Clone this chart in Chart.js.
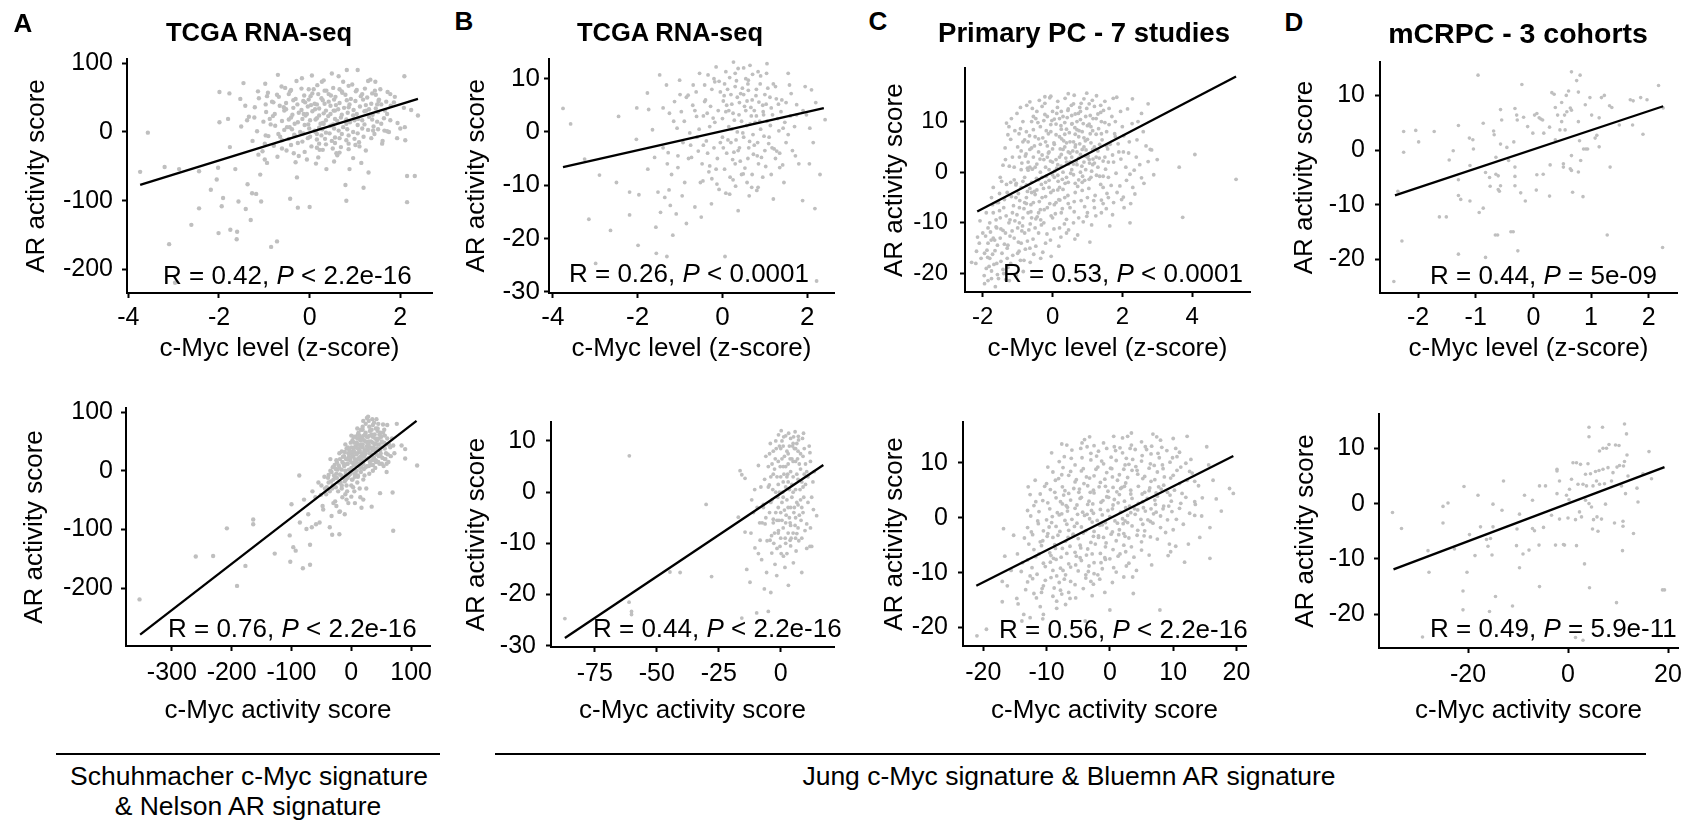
<!DOCTYPE html>
<html>
<head>
<meta charset="utf-8">
<script src="https://cdn.jsdelivr.net/npm/chart.js@4.4.1/dist/chart.umd.min.js"></script>
<style>
html,body{margin:0;background:#fff;overflow:hidden}
#fig{position:relative;width:1696px;height:822px;font-family:"Liberation Sans",Arial,sans-serif;color:#000}
.t{position:absolute;white-space:nowrap;line-height:1}
.lab{font-weight:bold;font-size:26px;transform:translate(-50%,-50%)}
.ttl{font-weight:bold;transform:translate(-50%,-50%)}
.st{font-size:26px;transform:translateY(-50%)}
.cap{font-size:26.5px;transform:translate(-50%,-50%)}
.rule{position:absolute;height:2px;background:#000}
.box{position:absolute}
</style>
</head>
<body>
<div id="fig"></div>
<script>
// ---- data (flat x,y pairs) ----
const aTopPts=[-3.57,-1,-3.74,-58,-3.2,-51,-3.1,-163,-2.97,-219,-2.88,-54,-2.61,-135,-2.44,-57,-2.44,-111,-2.18,-84,-2.01,-147,-2.02,-52,-2.05,-69,-1.99,58,-1.99,14,-1.91,-96,-1.94,-108,-1.77,56,-1.8,19,-1.76,-22,-1.75,-142,-1.6,-145,-1.61,-156,-1.64,-54,-1.57,-101,-1.53,48,-1.46,71,-1.42,38,-1.41,-112,-1.38,17,-1.37,-76,-1.3,-128,-1.27,-89,-1.22,21,-1.18,-90,-1.14,59,-1.13,-33,-1.09,-62,-1.07,-101,-0.99,-40,-0.98,70,-0.97,-5,-0.94,52,-0.88,19,-0.85,-167,-0.8,43,-0.72,-159,-0.7,83,-0.65,-7,-0.57,36,-0.54,64,-0.5,7,-0.46,55,-0.43,-97,-0.35,-31,-0.33,-5,-0.28,-66,-0.26,-110,-0.17,78,-0.13,26,-0.1,43,-0.06,-40,0,-109,0.05,82,0.09,62,0.13,0,0.16,40,0.22,-26,0.27,73,0.31,12,0.37,-54,0.42,55,0.49,85,0.53,31,0.59,-31,0.64,81,0.71,59,0.79,-77,0.81,-100,0.82,90,0.86,36,0.88,-54,0.94,69,0.99,17,1.06,90,1.1,-21,1.16,55,1.19,-81,1.25,31,1.3,-59,1.34,76,1.4,2,1.45,73,1.49,40,1.56,62,1.6,-17,1.65,2,1.71,26,1.75,0,1.78,55,1.86,43,1.93,-9,2,5,2.09,81,2.11,-12,2.1,7,2.15,-102,2.15,-64,2.32,-64,2.39,24,2.24,32,
-0.62,66,-0.18,63,0.17,68,0.52,64,0.86,67,1.22,63,-0.92,57,-0.43,59,0.06,56,0.37,60,0.72,57,1.02,59,1.38,56,1.72,58,-1.12,49,-0.68,51,-0.31,48,0.02,52,0.26,49,0.57,51,0.91,48,1.27,50,1.53,47,1.88,51,-0.83,44,-0.52,42,-0.14,45,0.11,41,0.42,44,0.66,42,1.01,45,1.36,41,1.69,44,-1.21,36,-0.66,38,-0.36,35,-0.04,37,0.21,34,0.46,38,0.76,35,1.11,37,1.46,34,1.79,38,2.08,35,-0.96,29,-0.56,31,-0.24,28,0.06,30,0.31,27,0.56,31,0.84,28,1.21,30,1.51,29,-1.34,22,-0.81,23,-0.41,21,-0.09,24,0.16,20,0.41,23,0.69,21,0.96,24,1.31,22,1.64,20,-1.02,15,-0.61,16,-0.26,14,0.01,17,0.29,13,0.61,16,0.89,14,1.16,17,1.49,15,1.94,13,-1.51,8,-0.76,9,-0.44,7,-0.11,10,0.21,6,0.46,9,0.74,7,1.06,10,1.41,8,-1.16,1,-0.56,3,-0.21,0,0.11,2,0.36,-1,0.64,2,0.96,0,1.29,3,1.71,1,-0.91,-6,-0.34,-4,0.01,-7,0.26,-5,0.56,-8,0.86,-5,1.19,-7,-1.26,-13,-0.61,-12,-0.16,-14,0.16,-11,0.49,-13,0.81,-12,1.09,-15,1.61,-13,-0.79,-20,-0.41,-19,0.04,-21,0.36,-18,0.69,-22,1.01,-19,-1.04,-28,-0.51,-27,-0.11,-29,0.29,-26,0.66,-30,1.24,-27,-0.71,-36,-0.24,-35,0.19,-37,0.61,-34,0.96,-38,-0.94,-45,-0.31,-44,0.14,-46,0.54,-43,1.14,-45,-0.29,74,0.31,75,0.74,73,1.29,74,
-0.41,61,-0.02,62,0.33,60,0.66,62,1.04,61,1.44,60,-0.72,54,-0.12,53,0.19,55,0.47,53,0.79,54,1.13,52,1.46,54,-0.36,46,-0.02,47,0.29,46,0.54,47,0.82,46,1.18,47,1.52,45,-0.97,40,-0.27,40,0.03,39,0.33,41,0.58,39,0.88,40,1.24,39,1.58,40,-0.52,33,-0.18,32,0.12,33,0.36,31,0.63,33,0.97,32,1.31,33,1.66,31,-0.77,26,-0.38,25,-0.06,26,0.21,24,0.46,26,0.71,25,1.04,26,1.39,25,-0.46,18,-0.16,19,0.13,18,0.36,17,0.56,19,0.81,18,1.07,19,1.38,18,1.78,17,-0.86,11,-0.33,12,-0.03,11,0.24,12,0.52,11,0.81,12,1.21,11,1.58,12,-0.39,4,-0.01,5,0.28,4,0.54,5,0.83,4,1.16,5,1.51,4,-0.69,-3,-0.14,-2,0.16,-3,0.44,-2,0.71,-3,1.06,-2,1.43,-3,-0.46,-10,-0.04,-9,0.34,-10,0.66,-9,0.99,-10,1.36,-9,-0.99,-17,-0.26,-16,0.21,-17,0.56,-16,0.86,-17,-0.61,-24,0.16,-23,0.51,-24,0.86,-25];
const aTopFit=[-3.74,-77,2.39,48];
const aTopXTicks=[-4,-2,0,2];
const aTopYTicks=[100,0,-100,-200];

const bTopPts=[-3.76,4.4,-3.58,1.5,-3.25,-5.1,-3.15,-16.4,-2.99,-24.7,-2.9,-8.1,-2.64,-18.5,-2.5,-9.5,-2.45,2.9,-2.19,-11.3,-2.03,-1.4,-2.02,4.5,-1.99,-21.3,-1.97,-11.8,-2.19,-15.6,-1.77,7.3,-1.76,-7,-1.74,4.2,-1.65,0.4,-1.6,-4.8,-1.57,-17.9,-1.56,-22.8,-1.52,-11.3,-1.48,10.7,-1.46,-15.1,-1.4,4.5,-1.36,-12.3,-1.32,8.8,-1.31,-23.4,-1.28,-3.9,-1.26,-10.9,-1.23,-13.8,-1.17,-19.4,-1.13,5.7,-1.09,-15.4,-1.07,0.7,-1.05,-6.7,-1.01,9.7,-0.97,3.8,-0.93,-2,-0.89,-9.5,-0.85,-17.2,-0.81,6.9,-0.77,-0.2,-0.73,-4.8,-0.69,8.8,-0.65,-14.1,-0.61,2.9,-0.57,-3.6,-0.54,11,-0.5,-16,-0.46,-9.2,-0.42,5.7,-0.38,-1.7,-0.34,10.7,-0.3,-6.4,-0.26,-13.5,-0.22,2.6,-0.18,9.4,-0.13,-9.8,0.06,-23.4,0.08,11.3,0.17,-11.7,0.37,-14.8,0.37,11.9,0.49,-7.9,0.61,9.7,0.69,-10.4,0.84,11.3,0.84,-10.4,1.04,11,1.2,-12.6,1.35,-6.7,1.55,11,1.72,-4.5,1.89,-12.9,2.06,0.7,2.1,7.9,2.14,-2,2.18,-14.4,2.22,-28,2.42,2.3,1.98,3.2,1.75,5.1,1.43,0.7,1.28,-3.6,
-0.4,6,-0.3,1,-0.25,8,-0.2,-3,-0.1,4,-0.05,7.5,0,-1,0,2.5,0.05,9,0.1,5,0.1,-4,0.15,1,0.2,7,0.2,-2,0.25,3.5,0.3,8.5,0.3,-6,0.35,0,0.4,5.5,0.4,-3,0.45,2,0.5,7,0.5,-1,0.55,4,0.6,-5,0.6,9,0.65,1.5,0.7,6,0.75,-2.5,0.8,3,0.8,8,0.85,-6,0.9,0.5,0.95,5,1,-3.5,1,7,1.05,2,1.1,-1,1.15,4.5,1.2,9,1.25,-5,1.3,2.5,1.4,6,1.5,-2,1.6,3,0.05,-7,0.25,-9,-0.15,-7,0.45,-8,0.7,-8,0.95,-8.5,-0.35,-4,0.15,4,0.35,6.5,0.55,10,0.75,4,0.22,0.5,0.62,-3,0.88,2,-0.05,-2,0.42,-5.5,0.12,8,0.68,3,1.12,6.5,-0.45,3,0.32,-1.5,0.58,5.8,0.82,-4.5,1.35,-4,1.5,5.5,1.7,1,1.8,-6,1.9,4,-0.6,-1,-0.7,5,-0.8,-5,-0.9,2,-1,7,-1.2,-8,-1.4,-3,0.9,10.5,0.5,12,0.3,11,1.25,8.5,-0.2,10,
-0.55,0.5,-0.48,-6,-0.62,7.5,-0.36,3.5,0.02,5.8,0.27,-3.8,0.47,8.2,0.72,-0.5,0.97,3.2,1.17,-3,1.32,5.2,1.62,7.2,1.02,-6.5,0.18,-8.5,-0.08,-10.8,0.63,-12,1.45,-9.5,-1.15,2,-1.3,-6,-0.95,-12,2.2,5.5,1.95,8.5,2.05,-6,2.3,-8,
-0.45,-2.5,-0.42,8.8,-0.28,4.8,-0.32,-7.5,-0.18,1.8,-0.12,-5,-0.08,9.5,0.02,-3,0.04,6.8,0.08,3.8,0.13,-1.5,0.17,10.2,0.22,5.2,0.24,-5.2,0.28,2.2,0.33,9.6,0.37,-3.5,0.39,3.2,0.43,7.2,0.48,-0.2,0.52,4.8,0.53,-6.8,0.57,1.2,0.61,7.8,0.64,-1.8,0.67,4.6,0.71,10.8,0.73,-4.2,0.77,1.8,0.79,6.8,0.83,-2,0.86,5.6,0.89,9,0.92,-4.8,0.96,3.8,0.98,-0.8,1.03,5.2,1.07,8.2,1.09,-2.2,1.13,1.2,1.18,3.2,1.22,-3.2,1.27,6.2,1.33,0.2,1.38,3.8,1.42,-6.2,1.47,1.8,1.55,-0.5,1.58,8.8,1.65,-3.5,1.75,3.2,-0.65,4,-0.75,-2.5,-0.85,6.5,-0.52,-9.5,-0.25,-8.8,0.08,-11.5,0.31,-10.2,0.58,-9.5,0.81,-11,1.15,-8,-1.05,-4.5,-1.25,3.5,-0.15,12.2,0.26,13.1,0.65,12.5,1.05,12.8];
const bTopFit=[-3.76,-6.6,2.39,4.46];
const bTopXTicks=[-4,-2,0,2];
const bTopYTicks=[10,0,-10,-20,-30];

const cTopPts=[5.26,-1.4,4.08,3.5,3.73,-8.9,3.63,1,2.84,4.4,2.74,2.1,2.29,14.5,2.22,-10,2.36,-4.3,2.03,-4.9,1.64,-10.6,1.07,-13.8,0.64,-13.2,-0.34,-17,-2.15,-12.8,-2.32,-17.8,-1.85,-21.4,-1.75,-19.5,-1.32,9.7,-0.65,13.9,-0.22,14.9,-0.08,14.7,0.98,15.6,1.26,15.1,1.84,14.8,2.74,13.5,2.55,11.6,2.03,4,2.22,-0.4,2.55,-1.1,1.93,-2.7,1.45,-6.2,0.98,-8.7,0.4,-9.3,0.21,-5.5,1.45,-0.8,
-2,-12,-1.95,-16,-1.9,-19,-1.85,-14,-1.8,-10,-1.8,-17,-1.75,-21,-1.7,-13,-1.7,-8,-1.65,-15.5,-1.6,-18,-1.6,-11,-1.55,-6,-1.5,-13,-1.5,-9,-1.45,-16,-1.4,-20,-1.4,-7,-1.35,-12,-1.3,-4,-1.3,-15,-1.25,-10,-1.2,-18,-1.2,-2,-1.15,-8,-1.1,-13,-1.1,1,-1.05,-5,-1,-16,-1,-11,-0.95,3,-0.95,-7,-0.9,-3,-0.9,-14,-0.85,6,-0.85,-9,-0.8,-1,-0.8,-12,-0.75,8,-0.75,-5,-0.7,2,-0.7,-8,-0.65,-15,-0.65,4.5,-0.6,-2,-0.6,10,-0.55,-6,-0.5,1,-0.5,7,-0.5,-11,-0.45,-3.5,-0.45,12,-0.4,4,-0.4,-8,-0.35,0,-0.35,9,-0.3,-5,-0.3,13,-0.25,2.5,-0.25,-10,-0.2,6,-0.2,-2,-0.15,11,-0.15,-7,-0.1,0.5,-0.1,4,-0.05,8,-0.05,-4,0,2,0,-9,0,12,0.05,5.5,0.05,-1,0.1,-6,0.1,9.5,0.15,1.5,0.15,14,0.2,-3,0.2,7,0.25,3.5,0.25,-8,0.3,11,0.3,0,0.35,5,0.35,-5,0.4,8.5,0.4,2,0.45,-2,0.45,12.5,0.5,6,0.5,-7,0.55,3,0.55,9.5,0.6,-0.5,0.6,13.5,0.65,5,0.65,-4,0.7,10,0.7,1.5,0.75,7,0.75,-9,0.8,3.5,0.8,12,0.85,-2,0.85,8,0.9,5,0.95,0.5,0.95,11,1,6.5,1,-5,1.05,2.5,1.1,9,1.1,-1,1.15,4.5,1.2,13,1.2,-7,1.25,7.5,1.3,1,1.35,5.5,1.4,10,1.45,-3,1.5,3,1.55,8,1.6,-1,1.65,5.5,1.7,11,1.75,2,1.8,7,1.85,-4,1.9,4,2,9,2.1,1,2.2,6,2.4,3,2.6,8,
-1,5,-1.2,6.5,-1.35,2.5,-1.5,-1,-1.25,9,-1.1,-1.5,-0.9,0.5,-0.7,6,-0.55,3,-0.3,-1,-0.1,-3,0.1,2.5,0.3,4.5,0.5,2,0.7,4,0.9,2,-0.6,-4,-0.4,-1.5,-0.2,1,0,-0.5,0.2,3,0.4,-1,0.6,6,0.8,0,1,3,1.2,5,-0.8,-6,-0.6,-9,-0.4,-12,-0.2,-14,0.2,-11,0.4,-12,0.6,-10,1,-8,1.4,-8,1.6,-5,-1.7,-3,-1.6,-6,-1.9,-8,-2.05,-17,-1.95,-22,-2.2,-18,-0.05,15,0.45,15.5,1.05,13.5,1.3,11.5,1.5,14,0.9,14.5,0.65,11.5,0.25,12,-0.55,11,-0.85,10,-1.15,3,-1.3,-17,-1.55,-21,-1.75,-5,-1.85,-11,-2.1,-14,1.75,-6,2.3,-3,2.05,-7,2.5,1.5,2.8,4.5,2.9,-0.5,3,2.5,1.95,12,2.45,10,0.35,7.5,0.55,0.5,0.75,-1.5,0.15,-3.5,-0.15,3,-0.35,5.5,-0.65,1,-0.75,-2.5,-0.95,-10,-1.05,-2.5,0.05,10.5,0.25,8.5,0.45,4,0.65,7.5,0.85,4.5,1.05,9.5,1.15,1.5,1.25,3,1.4,-5.5,1.6,2,1.8,10,2.15,12.5,
-1.42,-11.5,-1.38,-14.2,-1.33,-8.6,-1.28,-18.8,-1.22,-12.6,-1.18,-4.8,-1.14,-16.4,-1.08,-9.6,-1.04,-2.2,-0.98,-13.8,-0.94,-5.6,-0.92,-17.4,-0.88,1.8,-0.86,-10.6,-0.82,-7.2,-0.78,-15.2,-0.76,3.6,-0.72,-3.8,-0.68,-11.4,-0.66,7.2,-0.62,-6.4,-0.58,0.6,-0.56,-13.2,-0.52,5.2,-0.48,-9.2,-0.46,-1.2,-0.42,9.8,-0.38,-5.8,-0.36,2.6,-0.32,-10.4,-0.28,6.8,-0.26,-3.2,-0.22,11.4,-0.18,-0.8,-0.16,-12.2,-0.12,7.6,-0.08,-6.2,-0.06,2.2,-0.02,10.2,0.02,-3.6,0.04,5.8,0.08,-8.2,0.12,0.8,0.14,12.8,0.18,-5.4,0.22,4.6,0.24,9.2,0.28,-1.4,0.32,6.2,0.34,-10.2,0.38,2.8,0.42,10.8,0.44,-4.6,0.48,7.8,0.52,-0.2,0.54,13.2,0.58,4.2,0.62,-7.8,0.64,8.8,0.68,2.2,0.72,-2.8,0.74,11.6,0.78,5.6,0.82,-5.6,0.84,1.2,0.88,9.6,0.92,-1.6,0.94,6.2,0.98,12.6,1.02,3.2,1.04,-3.2,1.08,7.6,1.12,0.2,1.16,10.6,1.18,-5.6,1.22,4.6,1.26,-0.6,1.32,8.6,1.34,2.8,1.38,-2.4,1.42,6.4,1.46,12.2,1.52,0.6,1.56,-4.2,1.58,4.6,1.62,9.4,1.68,-2.6,1.72,3.4,1.78,7.6,1.82,-0.2,1.88,5.6,1.96,2.6,2.04,7.2,2.12,-1.6,2.18,3.8,2.28,9.6,2.34,0.4,2.42,6.4,2.62,-2.2,2.68,5.2,
-1.62,-9.4,-1.66,-13.4,-1.72,-16.2,-1.78,-11.8,-1.82,-18.6,-1.88,-15.4,-1.92,-12.6,-1.58,-20.2,-1.48,-17.6,-1.52,-4.2,-1.46,-1.8,-1.42,1.4,-1.36,4.8,-1.28,7.4,-1.18,10.6,-1.08,8.2,-1.02,11.6,-0.96,7.6,-0.92,12.8,-0.74,13.2,-0.58,12.6,-0.38,14.2,-0.22,13.6,0.36,14.6,0.62,15.2,0.82,13.6,1.14,14.2,1.38,13.2,1.62,12.6,1.74,14.6,-0.48,-14.6,-0.28,-15.8,-0.06,-13.4,0.18,-14.6,0.46,-11.4,0.72,-12.4,0.88,-9.8,1.12,-10.4,1.24,-8.6,1.54,-7.2,1.72,-8.4,1.98,-5.4,2.24,-6.2,-0.04,-16.6,-0.64,-17.8,-0.84,-19.6,-1.04,-20.4,-1.24,-21.4,-1.64,-22.6,-1.96,-20.4,-2.08,-9.6,-2.18,-15.6,-0.12,3.8,0.06,0.2,0.26,6.6,0.46,1.6,0.66,5.4,0.86,-0.8,1.06,1.8,-0.32,-2.4,-0.52,-3.8,-0.72,0.8,0.16,-1.8,0.36,-2.2,0.56,9.6,0.76,8.2,0.96,4.4,1.16,2.6,-0.24,-7.4,-0.44,-8.8,-0.64,-10.2,0.04,-11.2,0.24,-12.8,
-0.9,4.2,-0.85,-1.8,-0.8,6.4,-0.75,-6.2,-0.7,0.4,-0.65,-3.2,-0.6,4.8,-0.55,8.4,-0.5,-4.4,-0.45,1.6,-0.4,6.6,-0.35,-7.4,-0.3,3.4,-0.25,10.2,-0.2,-4.8,-0.15,5.2,-0.1,-1.6,-0.05,9.4,0,4.6,0.05,-6.4,0.1,7.4,0.15,-0.6,0.2,10.6,0.25,1.2,0.3,-3.4,0.35,9.8,0.4,5.8,0.45,-6.2,0.5,3.8,0.55,11.2,0.6,1.6,0.65,-2.2,0.7,8.4,0.75,2.8,0.8,10.4,0.85,-3.6,0.9,6.8,0.95,3.2,1,9.2,1.05,-1.4,1.1,5.8,1.15,8.2,1.2,1.8,1.25,10.6,1.3,4.2,1.35,-0.8,1.4,7.6,1.45,2.2,1.5,9.8,1.55,5.2,-0.98,-4.2,-0.92,8.6,-0.78,3.2,-0.62,-7.8,-0.48,10.6,-0.34,-9.4,-0.18,8.2,-0.04,-8.6,0.12,11.6,0.28,-7.2,0.44,12.2,0.62,-5.8,0.78,12.8,0.92,-6.8,1.08,11.2,1.22,-4.6,1.38,11.8,-1.12,-6.6,-1.22,-9.4,-1.32,-2.4,-1.02,-8.4,-0.88,-11.6,-0.72,-13.6,-0.54,-16.2,-1.24,1.2,-1.38,-5.4,-1.48,-11.2,-1.58,-14.4,-1.68,-18.2,-1.76,-13.4,-1.86,-16.8,-1.28,-14.4,-1.16,-11.6,-0.96,-15.6,-0.82,-17.4,-1.52,-7.6,-1.62,-10.8,-1.72,-6.4,-1.42,-19.2,-1.34,-21.2];
const cTopFit=[-2.16,-7.76,5.26,18.9];
const cTopXTicks=[-2,0,2,4];
const cTopYTicks=[10,0,-10,-20];

const dTopPts=[-2.42,-24,-2.28,-16.6,-2.25,-0.4,-2.25,3.4,-2.35,-7.5,-2.04,3.6,-1.99,1.5,-1.72,3.4,-1.63,-12.2,-1.51,-12.2,-1.46,-1.8,-1.39,-0.1,-1.3,4.5,-1.3,-5.4,-1.3,-8.3,-1.26,-9,-1.3,-19,-1.11,2.2,-1.05,1.9,-1.1,-2.8,-1.1,-9.3,-1.04,0.2,-0.96,13.7,-0.87,4.9,-0.87,-10.6,-0.94,-11.4,-0.83,-19.6,-0.83,-4.1,-0.76,-5,-0.75,-6.6,-0.69,3.5,-0.68,2.8,-0.65,-1.3,-0.65,-4.4,-0.61,-4.7,-0.61,-7.2,-0.59,-7.5,-0.66,-15.5,-0.62,-15.5,-0.65,-24,-0.57,7.4,-0.57,1.1,-0.57,-6.5,-0.55,5.5,-0.46,0.5,-0.43,-1.9,-0.39,-14.9,-0.35,-14.9,-0.34,1.5,-0.32,7.6,-0.32,-3.1,-0.32,-4.8,-0.32,-6.5,-0.29,6.4,-0.28,5.5,-0.27,-18.4,-0.2,12,-0.17,6,-0.22,-7.8,-0.14,-9.3,-0.1,4.3,-0.01,3.1,0.02,6.4,0.06,6.7,0.1,5.9,0.13,5.7,0.16,5.5,0.05,-7.3,0.06,-4.5,0.18,3.1,0.17,-4.4,0.28,4.2,0.29,-2.7,0.28,-8.4,0.32,10.5,0.36,10.2,0.38,7.8,0.38,1.9,0.42,6.4,0.46,3.7,0.49,8.7,0.54,6.4,0.57,10,0.61,10.8,0.49,5.2,0.55,3.7,0.52,-2.5,0.52,-3.1,0.58,7,0.64,7.7,0.66,14.3,0.66,7.3,0.66,-1,0.68,-7.7,0.64,-3.4,0.66,-3.7,0.75,12.7,0.78,10.6,0.78,5.2,0.8,1.7,0.81,13.7,0.82,-1.9,0.78,-4,0.86,-8.5,0.87,0.2,0.9,8.3,0.91,0.2,0.94,0.2,0.98,9.6,1.01,6.4,1.07,2.2,1.1,2.7,1.14,0.6,1.14,5.9,1.18,9.6,1.23,10,1.28,-15.5,1.32,8.1,1.33,-3.1,1.36,7.8,1.49,4.6,1.68,9.2,1.72,4.6,1.73,9,1.86,9.6,1.9,2.9,1.97,9.2,2.17,11.8,2.24,-17.8,2.25,7.7];
const dTopFit=[-2.4,-8.26,2.25,8.02];
const dTopXTicks=[-2,-1,0,1,2];
const dTopYTicks=[10,0,-10,-20];

const aBotPts=[-354,-219,-260,-146,-231,-145,-208,-98,-191,-196,-177,-162,-164,-83,-164,-91,-128,-141,-103,-110,-100,-57,-102,-155,-97,-130,-93,-136,-87,-8,-86,-88,-81,-166,-79,-49,-75,-99,-72,-74,-69,-160,-69,-126,-66,-96,-59,-91,-53,-88,-51,-41,-47,-66,-44,-30,-38,-7,-36,-96,-33,-77,-32,-109,-27,-52,-20,-108,-19,-69,-11,-74,-8,-49,0,-44,6,-55,17,-63,20,-49,34,-61,48,-38,59,-2,69,-37,70,-102,76,80,84,43,90,37,90,21,110,9,70,43,59,12,26,90,42,88,53,79,
-50,-25,-45,-10,-42,-40,-38,-20,-35,0,-32,-30,-30,-15,-28,10,-25,-5,-22,-35,-20,5,-18,-20,-15,15,-14,-10,-12,25,-10,0,-8,-25,-7,12,-5,30,-4,-8,-2,18,0,5,0,40,2,-15,3,25,4,10,5,48,6,-5,8,30,9,15,10,55,11,-10,12,38,13,22,14,60,15,5,16,45,18,30,19,70,20,12,21,52,22,35,24,65,25,20,26,42,28,58,29,8,30,75,31,30,33,50,34,62,35,18,37,40,38,82,40,55,42,28,44,68,46,45,48,35,50,58,52,22,55,48,58,30,60,55,62,15,65,40,-30,-55,-25,-60,-15,-45,-10,-40,0,-25,5,-35,10,-20,20,-15,30,-5,40,5,45,15,-60,-45,-55,-20,-48,-60,-65,-35,-20,-70,-5,-55,15,-45,25,-30,-35,20,-20,30,-10,45,0,60,10,72,20,85,28,92,35,88,45,80,55,70,60,78,-3,35,7,42,17,8,23,28,27,48,36,35,43,52,8,-8,-12,8,-25,18,32,10,12,65,2,52,-8,38,18,55,38,22,50,40,66,25,
-27,-12,-23,2,-17,-8,-13,12,-9,-15,-6,20,-1,-5,1,28,4,35,6,15,7,58,9,0,11,45,13,32,15,52,16,18,19,40,21,25,23,62,24,6,27,35,29,50,31,68,32,40,34,25,36,58,39,45,41,72,43,38,47,62,49,25,51,50,53,65,56,38,3,-28,-7,-35,-16,-30,14,-30,22,-8,36,0,41,15,47,12,54,8,57,20,63,45,68,55,72,30,
-41,-28,-39,-12,-36,-35,-34,-18,-33,-2,-31,-25,-29,-8,-31,6,-26,-28,-24,-12,-26,3,-24,14,-21,-20,-19,-6,-21,9,-19,20,-16,-25,-14,-12,-16,2,-14,24,-16,33,-11,-18,-9,-5,-11,10,-9,20,-11,32,-6,-12,-4,2,-6,12,-4,24,-6,40,1,-15,-1,-2,1,14,-1,22,1,32,-1,48,6,-10,4,2,6,20,4,32,6,40,4,58,11,-8,9,8,11,20,9,28,11,38,9,48,11,62,16,-2,14,12,16,25,14,35,16,42,14,58,16,70,21,3,19,18,21,26,19,45,21,60,19,75,26,8,24,30,26,36,24,50,26,58,24,80,31,15,29,22,31,38,29,45,31,60,29,85,36,10,34,28,36,48,34,70,36,78,41,18,39,35,41,46,39,62,46,25,44,38,46,55,44,72,51,12,49,30,51,48,49,65,56,20,54,40,56,60,61,28,59,45];
const aBotFit=[-353,-279,109,85];
const aBotXTicks=[-300,-200,-100,0,100];
const aBotYTicks=[100,0,-100,-200];

const bBotPts=[-87.1,-24.7,-61.1,7.1,-61.2,-21.5,-60.2,-23.3,-60.2,-23.9,-44.7,-15.6,-40.6,-15.7,-30.1,-2.4,-27.9,-16.5,-15.7,-24.6,-16.4,4.2,-15.7,3.4,-14.4,2.7,-17.1,-4.9,-14.4,-7.8,-13.7,-15.1,-12.4,-17.6,-11.7,-1.5,-11,-4,-10.4,-10.9,-9.7,-23.6,-9,5.2,-8.3,-9.4,-7.7,-13.2,-7,-2.4,-6.6,-18.9,-6.3,-6.2,-5.7,-15.7,-5,-23.3,-4.6,1.4,-4.3,-9.4,-4,-19.6,-3.6,-11.9,-3,-5.3,-2.3,-14.1,-1.6,-16.3,-0.9,-7.5,-0.3,-10.6,1.1,-12.5,1.7,-14.7,3.1,-18.2,3.8,-9.4,5.1,-13.8,6.5,-8.1,8.5,-15.7,11.8,-10.6,13.2,-3.4,14.5,-4.6,12.5,-10.6,10.5,-6.2,9.2,11.5,7.1,10.9,5.8,11.8,-0.9,11.2,11.8,7.7,
-5,5,-4,-2,-3,8,-2,0,-1,6,0,-4,0,3,1,9,1,-1,2,5,2,-6,3,2,3,7.5,4,-3,4,4,5,9.5,5,0,6,6,6,-5,7,2.5,7,8,8,-1.5,8,4.5,9,7,9,-4,10,1.5,10,5.5,11,3,-6,-5,-5,1,-3,-6,-1,-8,1,-7,3,-8,5,-8,7,-7,-2,10,0,8.5,2,11,4,10.5,6,8.5,-4,3,-2,-4,1,2,3,-3,5,3,7,-2.5,9,1,-1,1.5,2,1,4,-6.5,6,0.5,8,7.5,0,-9,2,-10,4,-10.5,6,-9,-7,-3,-8,1,-6,7,11,-2,12,6,13,2,1,5,3,5.5,5,6,-3,3.5,-1,-3,0.5,6.5,2.5,-1.5,4.5,1.5,6.5,3.5,8.5,2,-0.5,0,
-2.5,4.5,-1.5,-5.5,0.5,-2,1.5,7,2.5,3,3.5,-5,4.5,6.5,5.5,-3,6.5,9.5,7.5,-4.5,8.5,-9,9.5,3.5,-3.5,-1.5,-4.5,7.5,0.5,10,3.5,9,2.5,-12,-1.5,-11,-9,-12,-12,-8,10.5,-11,12,-7,-5.5,-9.5,-8.5,-6,
-4.5,-4,-3.5,5.5,-2.5,-8,-1.5,3,-0.5,9,0.5,-5.5,1.5,-3.5,2.5,8,3.5,0.5,4.5,-1,5.5,8.5,6.5,-2,7.5,5.5,8.5,-3,9.5,8.5,10.5,4,-3.2,0.5,-2.2,6.5,-1.2,-1,-0.2,5,0.8,0,1.8,-9,2.8,3.5,3.8,-6,4.8,9,5.8,-6.5,6.8,6.5,7.8,0.5,8.8,10.5,9.8,-7.5,-4.2,9.5,-1.8,8.5,0.2,12,1.2,10.8,3.2,11.5,5.2,10.8,7.2,10.2,2.2,-4.5,4.2,-9,6.2,-11.5,8.2,-5.5,0.2,-12,-2.8,-10,11.5,9,12.5,-1,13.5,4,-6.5,2.5,-7.5,-6,-9.5,-3,-10.5,0.5,3.8,6.5,1.3,3.5,-0.7,-5.5,5.3,-4,7.3,-9.5,9.3,-1,-3.7,-8.5];
const bBotFit=[-87.1,-28.5,17.2,5.3];
const bBotXTicks=[-75,-50,-25,0];
const bBotYTicks=[10,0,-10,-20,-30];

const cBotPts=[-21,-21.5,-19.5,-20.3,-16.8,-2,-16.6,-7,-17,-11.6,-17,-15.3,-12.9,5.6,-13,1.3,-9.2,11.8,-7.6,13.4,-3.2,14.7,2.8,14.8,7.4,14.7,10,14.4,12.2,14.8,15.3,12.9,18.9,5.3,19.5,4.4,15.8,-1.8,15.8,-7.4,11.8,-8.1,9.2,-6.9,7.9,-16.8,3.7,-13.8,0,-16.8,-2.6,-12.1,-3.9,-18.8,-6.3,-14.7,-8.4,-16.5,-10.5,-17.6,-12.6,-18.2,-14.7,-14.7,-13.9,-18.8,14.5,0.3,13.4,2.9,16.3,6.8,
-4,14.2,-1,13.6,2,14.5,5,13.8,8,14.1,-6,12.3,-3,11.7,-0.5,12.6,2,11.8,4,12.4,6.5,11.6,9,12.2,11,11.9,-8,10.2,-5.5,9.6,-3,10.5,-1,9.8,1,10.4,3,9.7,5,10.3,7,9.5,9.5,10.1,12,9.9,-9,8.3,-6.5,7.7,-4.5,8.5,-2.5,7.6,-0.5,8.2,1.5,7.8,3.5,8.6,5.5,7.5,7.5,8.3,10,7.7,13,8.1,-10,6.2,-7.5,5.6,-5.5,6.5,-3.5,5.8,-1.5,6.4,0.5,5.5,2.5,6.3,4.5,5.7,6.5,6.6,8.5,5.9,11,6.2,14,5.8,-11,4.3,-8.5,3.6,-6.5,4.4,-4.5,3.7,-2.5,4.5,-0.5,3.8,1.5,4.2,3.5,3.5,5.5,4.6,7.5,3.9,9.5,4.1,12,3.7,-12,2.2,-9.5,1.6,-7.5,2.5,-5.5,1.7,-3.5,2.4,-1.5,1.5,0.5,2.3,2.5,1.8,4.5,2.6,6.5,1.6,8.5,2.1,11,1.7,13.5,2.4,-12.5,0.3,-10,-0.4,-8,0.5,-6,-0.3,-4,0.4,-2,-0.5,0,0.2,2,-0.2,4,0.6,6,-0.4,8,0.3,10.5,-0.3,-13,-1.8,-10.5,-2.4,-8.5,-1.6,-6.5,-2.3,-4.5,-1.7,-2.5,-2.5,-0.5,-1.9,1.5,-2.2,3.5,-1.5,5.5,-2.4,8,-1.8,10,-2.2,-13.5,-3.7,-11,-4.4,-9,-3.6,-7,-4.3,-5,-3.8,-3,-4.5,-1,-3.6,1,-4.2,3,-3.7,5,-4.4,7.5,-3.9,-12,-5.8,-9.5,-6.4,-7.5,-5.6,-5.5,-6.3,-3.5,-5.7,-1.5,-6.5,0.5,-5.8,2.5,-6.2,5,-5.9,-13,-7.7,-10.5,-8.3,-8.5,-7.6,-6.5,-8.4,-4.5,-7.8,-2.5,-8.2,0,-7.5,3,-8.3,-14,-9.8,-11.5,-10.3,-9,-9.6,-7,-10.4,-5,-9.7,-2.5,-10.2,1,-9.9,-13,-11.7,-10.5,-12.4,-8,-11.8,-5.5,-12.2,-3,-11.6,-12,-13.8,-9,-14.3,-6.5,-13.6,-14.5,-15.7,-11,-16.2,-7,-15.8,
-2.5,13.1,0.7,12.9,3.4,13.2,6.6,13,-7.2,11.1,-4.4,10.9,-2.1,11.2,0.2,11,2.6,10.8,5.1,11.3,7.8,10.9,10.6,11.1,-7.4,9.1,-4.2,8.9,-1.9,9.2,0.1,9,2.2,8.8,4.1,9.3,6.2,9,8.4,8.9,11.2,9.2,-8.1,7.1,-5.3,6.9,-3.2,7.2,-0.8,7,1.2,6.8,2.8,7.3,5.2,7.1,7.1,6.9,9.6,7.2,12.2,6.8,-9.4,5.1,-7.1,4.9,-4.8,5.2,-2.6,5,-0.3,4.8,1.7,5.3,3.3,5,6.2,4.9,8.1,5.2,10.2,5,-10.6,3.1,-7.8,2.9,-6.2,3.2,-3.3,3,-1.4,2.8,0.7,3.3,2.3,3,5.2,2.9,7.1,3.2,9.7,3,-11.2,1.1,-8.3,0.9,-6.7,1.2,-4.3,1,-2.6,0.8,-0.3,1.3,1.7,1,3.3,0.9,5.6,1.2,7.3,1,9.8,1.1,-11.3,-1.1,-9.2,-0.9,-6.8,-1.2,-5.2,-1,-2.8,-0.8,-1.2,-1.3,1.2,-1,2.8,-0.9,5.2,-1.2,6.8,-1,-12.2,-3.1,-9.8,-2.9,-8.2,-3.2,-5.8,-3,-4.2,-2.8,-1.8,-3.3,0.2,-3,2.2,-2.9,4.3,-3.2,-10.8,-5.1,-8.7,-4.9,-6.3,-5.2,-4.7,-5,-2.3,-4.8,-0.7,-5.3,2.2,-5,-11.7,-7.1,-9.3,-6.9,-7.7,-7.2,-5.3,-7,-3.7,-6.8,-0.8,-7.3,1.3,-7,-12.3,-9.1,-10.2,-8.9,-7.8,-9.2,-6.2,-9,-3.3,-8.8,-1.2,-9.3,-12.2,-11.1,-9.3,-10.9,-7.2,-11.2,-3.8,-11,-13.3,-13.1,-10.7,-12.9,-7.8,-13.2,
-8.6,6.8,-6.2,8.4,-4.1,6.2,-2.2,8.8,0.4,7.4,2.4,9.6,4.4,7.9,6.4,9.8,8.6,7.4,10.6,8.6,-9.8,2.7,-7.3,4.1,-5.2,2.3,-3.1,4.6,-1.1,3.1,1.1,4.7,3.1,2.1,5.1,4.3,7.2,2.4,9.1,4.6,11.2,2.6,-11.4,-0.6,-9.1,0.2,-7.1,-0.5,-5.1,0.6,-3.2,-0.2,-1.2,0.5,0.8,-0.6,2.8,0.4,4.9,-0.3,6.9,0.7,9.1,-0.4,-12.4,-2.6,-9.9,-3.4,-7.9,-2.5,-5.8,-3.3,-3.8,-2.4,-1.8,-3.6,0.4,-2.6,2.4,-3.4,4.4,-2.3,6.4,-3.5,8.8,-2.7,-11.2,-6.6,-8.9,-7.4,-6.8,-6.5,-4.7,-7.3,-2.8,-6.6,-0.7,-7.6,1.6,-6.6,3.8,-7.2,-12.6,-10.6,-10.2,-11.4,-8.4,-10.6,-6.2,-11.6,-3.8,-10.4,-1.6,-11.2,0.4,-11.8,-11.6,-14.6,-8.4,-15.2,-5.4,-14.6,-2.8,-14.2,-4.6,12.6,-1.8,12.1,0.9,12.2,3.2,12.6,5.8,12.4,8.2,12.8,10.4,12.6,12.8,10.6,13.4,6.6,14.6,3.6,12.6,0.8,11.6,-1.2,9.4,-4.8,6.2,-6.8,4.2,-9.6,2.2,-10.8,-0.8,-13.6,-15.2,-3.2,-14.6,-6.6,-15.6,-9.6,-16.2,-12.4,-13.6,-17.6,-10.6,-18.4,-8.8,-12.8,-4.4,13.6,0.6,14.8,3.4,15.4,6.8,15.2,-6.8,13.2,-9.8,9.2,-11.8,6.8,-12.6,4.2,15.6,9.6,16.8,3.4,17.6,1.2,14.2,-3.6,12.4,-4.8,-0.2,3.7,1.9,5.5,-2.9,1.3,3.9,1.6,5.9,3.5,-4.9,4.6,-6.9,2.2,7.7,5.6,2.1,-1.1,-0.7,-0.9,
-7.6,7.8,-5.7,5.3,-3.7,7.4,-1.7,5.6,0.3,8.9,2.3,5.7,4.3,8.6,6.3,5.4,8.3,9.6,-8.7,4.6,-6.7,1.9,-4.7,3.5,-2.7,2.5,-0.7,5.7,1.3,2.7,3.3,4.3,5.3,1.8,7.3,4.5,9.3,2.1,-9.6,-1.7,-7.6,0.7,-5.6,-1.6,-3.6,0.6,-1.6,-1.4,0.4,1.6,2.4,-0.6,4.4,1.4,6.4,-0.7,8.4,1.6,-10.6,-4.2,-8.6,-5.6,-6.6,-3.6,-4.6,-5.5,-2.6,-3.4,-0.6,-4.6,1.4,-3.1,3.4,-5.3,5.4,-3.3,-9.4,-8.1,-7.4,-9.6,-5.4,-8.6,-3.4,-9.8,-1.4,-8.2,0.6,-9.1,2.6,-8.8,-6.1,10.8,-3.6,12.9,-1.3,10.3,1.6,12.7,3.6,10.6,5.6,12.9,7.6,11.7,9.9,10.9,-11.7,2.9,-10.3,5.7,-12.8,-4.8,-13.8,-8.2,-10.8,-13.6,-7.6,-13.9,-4.2,-12.9,-1.9,-10.4,3.6,-10.8,6.6,-8.6,9.6,-6.2,11.4,4.4,12.6,8.4,13.4,0.4,10.4,-5.2];
const cBotFit=[-21.1,-12.4,19.5,11.2];
const cBotXTicks=[-20,-10,0,10,20];
const cBotYTicks=[10,0,-10,-20];

const dBotPts=[-35.1,-1.6,-33.3,-4.5,-28,-8.5,-27.8,-12.4,-29.1,-24.1,-25,-0.5,-24,0.1,-25,-3.5,-22.7,-8.2,-20.8,3.1,-21,-15.8,-21,-19.2,-20.2,-12.4,-19.7,-5.6,-18.6,-9.4,-18,1.5,-17.5,-4.2,-16.3,-6.5,-16,-7.7,-15.5,-6.3,-15.7,-19.5,-15.2,-9.3,-15,-4.2,-15,-0.1,-14.5,-16.8,-13.2,-1.2,-12.9,4.1,-11.1,-18.5,-10.3,-7.6,-10.2,-4.6,-9.7,-1.9,-9.7,-11.6,-9,-9.1,-8.7,1.5,-7.8,-8.4,-7.1,0.6,-7.1,-4.5,-6.7,-4.9,-5.7,3.2,-5.8,-7.5,-5.7,-15,-4.9,-4.3,-4.5,3.2,-3.3,-2.1,-2.5,-7.5,-2.2,6.2,-2.2,5.9,-2.2,1.8,-1.7,4.1,-1.7,-2.8,-0.9,-7.4,-0.7,-7.5,-0.3,1.5,0,-2.6,0.2,0.7,0.3,2.6,0.7,4.4,1,7.4,1.5,-2.9,1.7,-7.6,1.7,7.4,2,3.5,2.3,-1.5,2.5,7.1,2.7,-2.4,3,3.5,3.3,-10.9,3.5,0.6,3.5,5.3,3.7,3.2,4,7.2,4.2,12.1,4.2,13.8,4.2,0,4.3,-15.2,4.5,5.4,4.7,-0.6,4.9,-4.6,5,3.2,5.1,-2.9,5.5,5.8,5.7,4.1,5.8,-2.4,6,-5,6.2,6,6.3,9.5,6.3,3.5,6.7,-2.8,6.9,13.8,7,10,7,6.2,7.3,3.6,7.5,-0.1,7.7,10,8,6.5,8.2,10.7,8.7,4.1,9,5.6,9.3,-3.5,9.5,10.6,9.7,-17.9,9.8,6.6,10.2,10.5,10.3,6.9,10.7,3.2,10.9,-8.5,11,-4.1,11,-3.2,11.1,6.8,11.3,14.4,11.3,7.6,11.5,1.8,11.7,12.6,11.8,8.8,12,5,13.1,-5.4,13.8,2.8,14,0.3,15,5.4,16.2,9.4,16.7,4.5,18.9,-15.6,19.3,-15.6,3,-24.7,1.5,-24.2];
const dBotFit=[-34.9,-11.9,19.3,6.6];
const dBotXTicks=[-20,0,20];
const dBotYTicks=[10,0,-10,-20];

// ---- layout ----
const fig=document.getElementById('fig');
Chart.defaults.font.family='"Liberation Sans", Arial, sans-serif';
Chart.defaults.color='#000';
const TITLE=26;   // axis title font size

function pairs(f){const o=[];for(let i=0;i<f.length;i+=2)o.push({x:f[i],y:f[i+1]});return o;}

const panels=[
 {pts:aTopPts,fit:aTopFit,xt:aTopXTicks,yt:aTopYTicks,xr:[-4.03,2.7],yr:[-234,106],xTitle:'c-Myc level (z-score)',r:2.2,
  g:{yTitleX:37,top:53,right:432,axisX:127,axisY:293,xTitleY:348,tf:25,yPad:9,xPad:5}},
 {pts:bTopPts,fit:bTopFit,xt:bTopXTicks,yt:bTopYTicks,xr:[-4.09,2.63],yr:[-30.25,13.76],xTitle:'c-Myc level (z-score)',r:1.9,
  g:{yTitleX:477,top:57,right:834,axisX:549,axisY:293,xTitleY:348,tf:26,yPad:4,xPad:4.5}},
 {pts:cTopPts,fit:cTopFit,xt:cTopXTicks,yt:cTopYTicks,xr:[-2.51,5.66],yr:[-23.65,20.5],xTitle:'c-Myc level (z-score)',r:1.9,
  g:{yTitleX:895,top:60,right:1250,axisX:965,axisY:292,xTitleY:348,tf:24,yPad:12,xPad:6}},
 {pts:dTopPts,fit:dTopFit,xt:dTopXTicks,yt:dTopYTicks,xr:[-2.66,2.49],yr:[-26.1,16.1],xTitle:'c-Myc level (z-score)',r:1.8,
  g:{yTitleX:1305,top:55,right:1677,axisX:1380,axisY:293,xTitleY:348,tf:25,yPad:10,xPad:5}},
 {pts:aBotPts,fit:aBotFit,xt:aBotXTicks,yt:aBotYTicks,xr:[-376.6,131.5],yr:[-298.4,107],xTitle:'c-Myc activity score',r:2.2,
  g:{yTitleX:35,top:403,right:430,axisX:126,axisY:646,xTitleY:710,tf:25,yPad:8,xPad:7}},
 {pts:bBotPts,fit:bBotFit,xt:bBotXTicks,yt:bBotYTicks,xr:[-92.7,21.5],yr:[-30.25,13.7],xTitle:'c-Myc activity score',r:1.9,
  g:{yTitleX:477,top:415,right:834,axisX:551,axisY:647,xTitleY:710,tf:25,yPad:10,xPad:7}},
 {pts:cBotPts,fit:cBotFit,xt:cBotXTicks,yt:cBotYTicks,xr:[-23.2,21.5],yr:[-23.35,17.4],xTitle:'c-Myc activity score',r:1.9,
  g:{yTitleX:895,top:415,right:1246,axisX:963,axisY:646,xTitleY:710,tf:25,yPad:10,xPad:7}},
 {pts:dBotPts,fit:dBotFit,xt:dBotXTicks,yt:dBotYTicks,xr:[-37.8,22],yr:[-26.1,16.2],xTitle:'c-Myc activity score',r:1.8,
  g:{yTitleX:1306,top:408,right:1678,axisX:1379,axisY:648,xTitleY:710,tf:25,yPad:9,xPad:7}}
];

function axis(p,horiz,size){
  return {
    type:'linear',
    min:horiz?p.xr[0]:p.yr[0], max:horiz?p.xr[1]:p.yr[1],
    afterBuildTicks:s=>{s.ticks=(horiz?p.xt:p.yt).map(v=>({value:v}));},
    afterFit:s=>{ if(horiz) s.height=size; else s.width=size; },
    ticks:{autoSkip:false,maxRotation:0,padding:horiz?p.g.xPad:p.g.yPad,font:{size:p.g.tf},color:'#000',callback:v=>String(v)},
    grid:{drawOnChartArea:false,drawTicks:true,tickLength:5,tickWidth:2,tickColor:'#000'},
    border:{display:true,color:'#000',width:2},
    title:{display:true,text:horiz?p.xTitle:'AR activity score',font:{size:TITLE},color:'#000',padding:0}
  };
}

panels.forEach(p=>{
  const g=p.g, padT=18, padR=16, half=TITLE*0.6;
  const L=Math.round(g.yTitleX-half), T=g.top-padT;
  const W=g.right+padR-L, H=Math.round(g.xTitleY+half)-T;
  const box=document.createElement('div');
  box.className='box'; box.style.left=L+'px'; box.style.top=T+'px';
  const cv=document.createElement('canvas'); cv.width=W; cv.height=H;
  box.appendChild(cv); fig.appendChild(box);
  new Chart(cv,{
    type:'scatter',
    data:{datasets:[
      {data:pairs(p.fit),showLine:true,borderColor:'#000',borderWidth:2.3,pointRadius:0,fill:false},
      {data:pairs(p.pts),pointRadius:p.r,pointBackgroundColor:'#bfbfbf',pointBorderWidth:0,showLine:false}
    ]},
    options:{responsive:false,animation:false,events:[],
      layout:{padding:{top:padT,right:padR,left:0,bottom:0}},
      plugins:{legend:{display:false},tooltip:{enabled:false}},
      scales:{x:axis(p,true,T+H-g.axisY),y:axis(p,false,g.axisX-L)}}
  });
});

// ---- text overlays ----
function txt(cls,html,x,y,size){const d=document.createElement('div');d.className='t '+cls;d.innerHTML=html;d.style.left=x+'px';d.style.top=y+'px';if(size)d.style.fontSize=size+'px';fig.appendChild(d);}
function rule(x1,x2,y){const d=document.createElement('div');d.className='rule';d.style.left=x1+'px';d.style.width=(x2-x1)+'px';d.style.top=y+'px';fig.appendChild(d);}

txt('lab','A',23,23); txt('lab','B',464,21); txt('lab','C',878,21); txt('lab','D',1294,22);
txt('ttl','TCGA RNA-seq',259,33,25.5); txt('ttl','TCGA RNA-seq',670,33,25.5);
txt('ttl','Primary PC - 7 studies',1084,33,27.5); txt('ttl','mCRPC - 3 cohorts',1518,33,28.5);

txt('st','R = 0.42, <i>P</i> &lt; 2.2e-16',163,275);
txt('st','R = 0.26, <i>P</i> &lt; 0.0001',569,273);
txt('st','R = 0.53, <i>P</i> &lt; 0.0001',1003,273);
txt('st','R = 0.44, <i>P</i> = 5e-09',1430,275);
txt('st','R = 0.76, <i>P</i> &lt; 2.2e-16',168,628);
txt('st','R = 0.44, <i>P</i> &lt; 2.2e-16',593,628);
txt('st','R = 0.56, <i>P</i> &lt; 2.2e-16',999,629);
txt('st','R = 0.49, <i>P</i> = 5.9e-11',1430,628);

rule(56,440,753); rule(495,1646,753);
txt('cap','Schuhmacher c-Myc signature',249,776);
txt('cap','&amp; Nelson AR signature',248,806);
txt('cap','Jung c-Myc signature &amp; Bluemn AR signature',1069,776);
</script>
</body>
</html>
